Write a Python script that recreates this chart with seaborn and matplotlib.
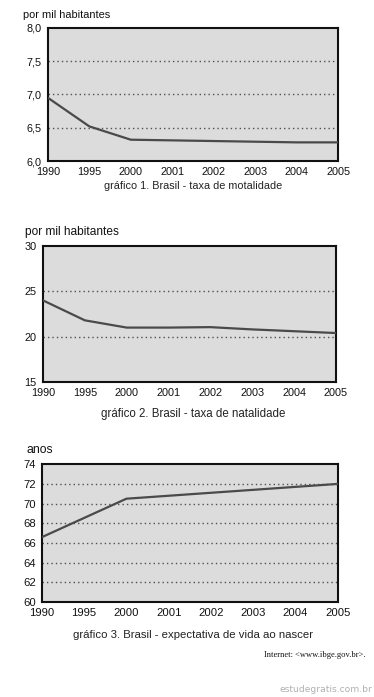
import numpy as np
import pandas as pd
import seaborn as sns
from matplotlib import pyplot as plt

anos = ['1990', '1995', '2000', '2001', '2002', '2003', '2004', '2005']
mortalidade = [6.95, 6.52, 6.32, 6.31, 6.30, 6.29, 6.28, 6.28]
natalidade = [24.0, 21.8, 21.0, 21.0, 21.05, 20.8, 20.6, 20.4]
expectativa = [66.6, 68.55, 70.5, 70.8, 71.1, 71.4, 71.7, 72.0]

sns.set_style('white')
plt.rcParams['font.family'] = ['Liberation Sans', 'DejaVu Sans']

fig = plt.figure(figsize=(3.74, 6.97), dpi=100)


def painel(rect, valores, yticks, ylabels, unidade, unid_x, unid_fs,
           legenda, leg_y, leg_fs, tick_fs):
    ax = fig.add_axes(rect)
    df = pd.DataFrame({'pos': np.arange(len(anos)), 'valor': valores})
    sns.lineplot(data=df, x='pos', y='valor', ax=ax, color='#4a4a4a', linewidth=1.6, zorder=3)
    ax.set_facecolor('#dcdcdc')
    ax.set_xlim(0, len(anos) - 1)
    ax.set_ylim(yticks[0], yticks[-1])
    ax.set_xticks(np.arange(len(anos)))
    ax.set_xticklabels(anos)
    ax.set_yticks(yticks)
    ax.set_yticklabels(ylabels)
    for t in yticks[1:-1]:
        ax.axhline(t, color='#505050', linestyle=(0, (1, 2.2)), linewidth=1.0, zorder=1)
    ax.set_xlabel('')
    ax.set_ylabel('')
    for s in ax.spines.values():
        s.set_color('#111111')
        s.set_linewidth(1.5)
    ax.tick_params(axis='both', labelsize=tick_fs, colors='#111111', length=3.5, width=1.4,
                   pad=1.0, direction='out')
    ax.tick_params(axis='x', direction='inout', length=6)
    fig.text(unid_x, rect[1] + rect[3] + 0.012, unidade, fontsize=unid_fs, ha='left', va='bottom',
             color='#111111')
    fig.text(0.516, leg_y, legenda, fontsize=leg_fs, ha='center', va='center', color='#222222')
    return ax


painel([0.128, 0.769, 0.776, 0.191], mortalidade, [6.0, 6.5, 7.0, 7.5, 8.0],
       ['6,0', '6,5', '7,0', '7,5', '8,0'], 'por mil habitantes', 0.061, 7.9,
       'gráfico 1. Brasil - taxa de motalidade', 0.733, 7.8, 7.8)
painel([0.115, 0.452, 0.783, 0.195], natalidade, [15, 20, 25, 30],
       ['15', '20', '25', '30'], 'por mil habitantes', 0.066, 8.6,
       'gráfico 2. Brasil - taxa de natalidade', 0.406, 8.3, 7.8)
painel([0.112, 0.136, 0.791, 0.198], expectativa, [60, 62, 64, 66, 68, 70, 72, 74],
       ['60', '62', '64', '66', '68', '70', '72', '74'], 'anos', 0.072, 8.8,
       'gráfico 3. Brasil - expectativa de vida ao nascer', 0.089, 8.2, 8.1)

fig.text(0.977, 0.060, 'Internet: <www.ibge.gov.br>.', fontsize=6.1, ha='right', va='center',
         family=['Liberation Serif', 'DejaVu Serif'], color='#111111')
fig.text(0.995, 0.004, 'estudegratis.com.br', fontsize=6.6, ha='right', va='bottom',
         color='#b0b0b0', family=['DejaVu Sans'])

fig.savefig('out.png', dpi=100)
